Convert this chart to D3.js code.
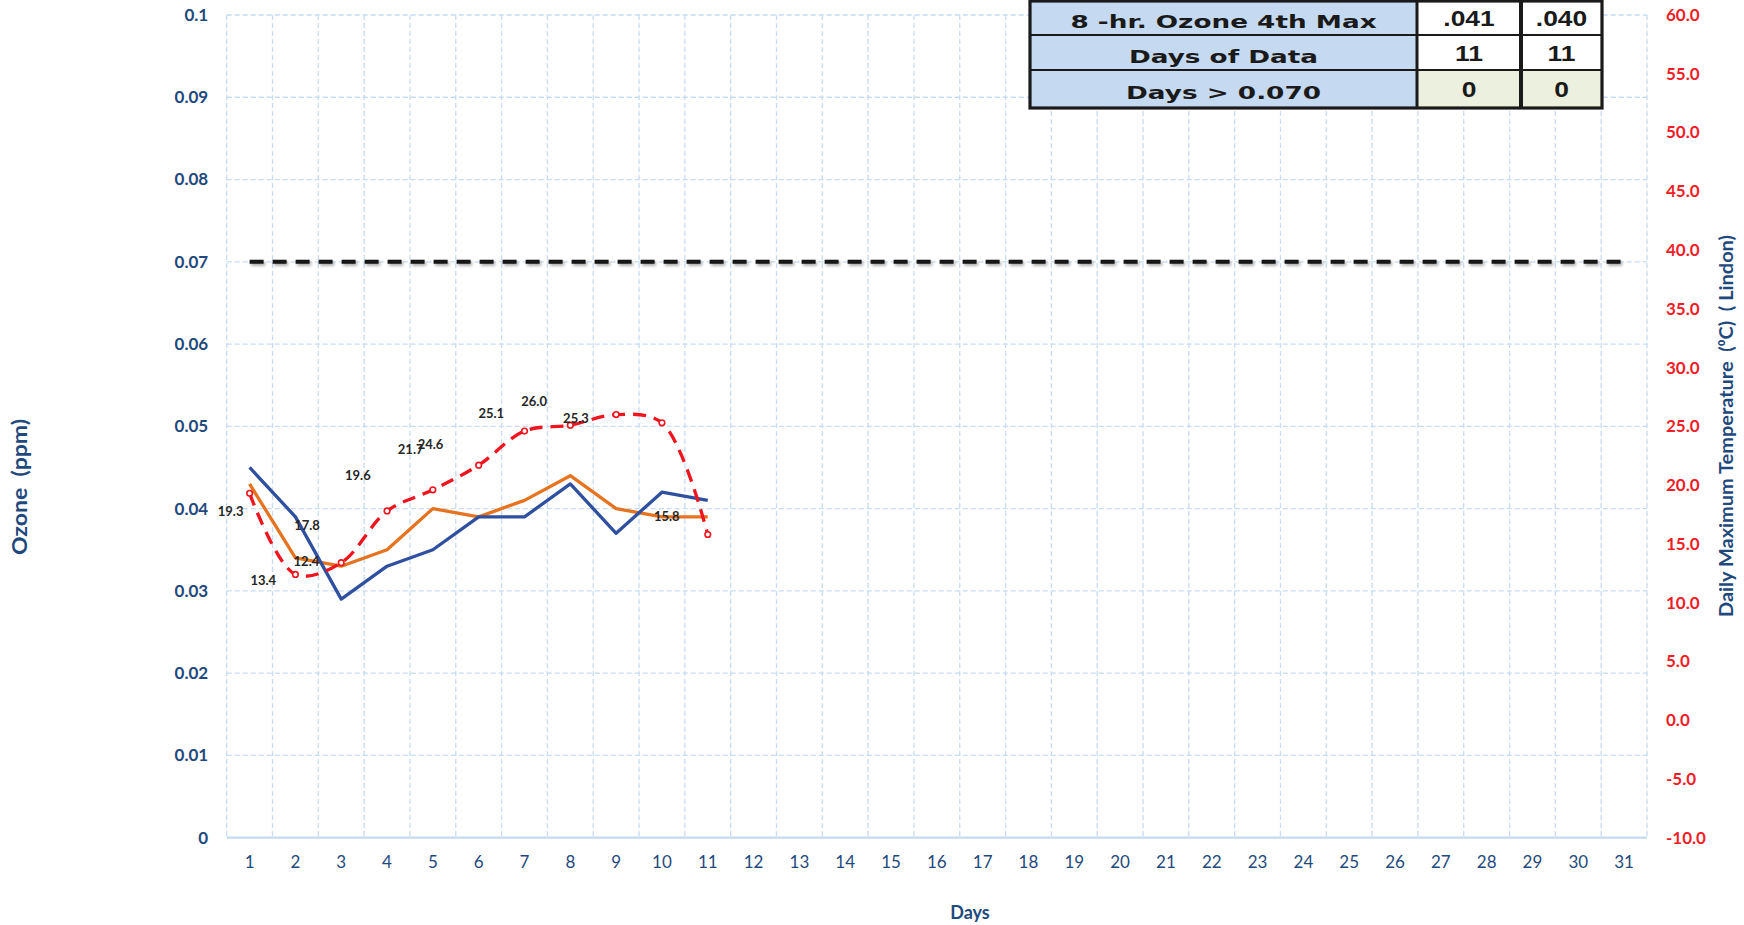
<!DOCTYPE html>
<html>
<head>
<meta charset="utf-8">
<script src="https://cdn.jsdelivr.net/npm/d3@7"></script>
<style>
  html, body { margin: 0; padding: 0; background: #fff; }
  svg { display: block; }
  .axis text { font-family: Lato, "Open Sans", sans-serif; }
</style>
</head>
<body>
<svg id="chart" width="1744" height="925"></svg>
<script>
// chart values
const days = [1, 2, 3, 4, 5, 6, 7, 8, 9, 10, 11, 12, 13, 14, 15, 16, 17, 18, 19, 20,
              21, 22, 23, 24, 25, 26, 27, 28, 29, 30, 31];
const ozoneBlue = [0.045, 0.039, 0.029, 0.033, 0.035, 0.039, 0.039, 0.043, 0.037, 0.042, 0.041];
const ozoneOrange = [0.043, 0.034, 0.033, 0.035, 0.040, 0.039, 0.041, 0.044, 0.040, 0.039, 0.039];
const tempMax = [19.3, 12.4, 13.4, 17.8, 19.6, 21.7, 24.6, 25.1, 26.0, 25.3, 15.8];
const standard = 0.070;
const ozoneTicks = [0, 0.01, 0.02, 0.03, 0.04, 0.05, 0.06, 0.07, 0.08, 0.09, 0.1];
const tempTicks = [-10, -5, 0, 5, 10, 15, 20, 25, 30, 35, 40, 45, 50, 55, 60];

// summary table
const tableLabels = ["8 -hr. Ozone 4th Max", "Days of Data", "Days > 0.070"];
const siteA = [".041", "11", "0"];
const siteB = [".040", "11", "0"];

// label nudges (px) for the temperature data labels, as placed in the original
const labelNudge = [[-19, 18], [11, -13], [-78, 18], [-80, 14], [-75, -14], [-68, -16],
                    [-94, 13], [-79, -12], [-82, -13], [-86, -4], [-41, -18]];

const svg = d3.select("#chart");
const x0 = 226.7, x1 = 1647, yTop = 15, yBot = 837.7;
const blueText = "#1f497d";
const gridColor = "#c8dbf1";

const x = d3.scaleBand().domain(days).range([x0, x1]).padding(0);
const xc = d => x(d) + x.bandwidth() / 2;
const y = d3.scaleLinear().domain([0, 0.1]).range([yBot, yTop]);
const yT = d3.scaleLinear().domain([-10, 60]).range([yBot, yTop]);

// soft shadow under the standard line (user space, the line has no height)
const defs = svg.append("defs");
const shadow = defs.append("filter").attr("id", "shadow")
    .attr("filterUnits", "userSpaceOnUse")
    .attr("x", 0).attr("y", 0).attr("width", 1744).attr("height", 925);
shadow.append("feDropShadow")
    .attr("dx", 1.5).attr("dy", 2).attr("stdDeviation", 1.4)
    .attr("flood-color", "#000").attr("flood-opacity", 0.35);

// grid
const grid = svg.append("g");
grid.selectAll(".hgrid")
    .data(ozoneTicks.filter(d => d > 0))
    .enter().append("line")
    .attr("x1", x0).attr("x2", x1)
    .attr("y1", d => y(d)).attr("y2", d => y(d))
    .style("stroke", gridColor).style("stroke-width", 1.3)
    .style("stroke-dasharray", "5,3");
grid.selectAll(".vgrid")
    .data(days.map(d => x(d)).concat([x1]))
    .enter().append("line")
    .attr("x1", d => d).attr("x2", d => d)
    .attr("y1", yTop).attr("y2", yBot)
    .style("stroke", gridColor).style("stroke-width", 1.3)
    .style("stroke-dasharray", "5,3");

// bottom axis line
svg.append("line")
    .attr("x1", x0).attr("x2", x1)
    .attr("y1", yBot).attr("y2", yBot)
    .style("stroke", "#c5d9f1").style("stroke-width", 2.2);

// 0.070 standard line
svg.append("line")
    .attr("x1", xc(days[0])).attr("x2", xc(days[days.length - 1]))
    .attr("y1", y(standard)).attr("y2", y(standard))
    .style("stroke", "#141414").style("stroke-width", 4)
    .style("stroke-dasharray", "14,9")
    .attr("filter", "url(#shadow)");

const ozoneLine = d3.line()
    .x((d, i) => xc(days[i]))
    .y(d => y(d));

svg.append("path")
    .datum(ozoneOrange)
    .attr("d", ozoneLine)
    .style("fill", "none").style("stroke", "#e5731f").style("stroke-width", 3.3)
    .style("stroke-linejoin", "round");

svg.append("path")
    .datum(ozoneBlue)
    .attr("d", ozoneLine)
    .style("fill", "none").style("stroke", "#2f4f9f").style("stroke-width", 3.3)
    .style("stroke-linejoin", "round");

// temperature (right axis), smoothed dashed line with open markers
const tempLine = d3.line()
    .x((d, i) => xc(days[i]))
    .y(d => yT(d))
    .curve(d3.curveCatmullRom.alpha(0.5));

svg.append("path")
    .datum(tempMax)
    .attr("d", tempLine)
    .style("fill", "none").style("stroke", "#f0141e").style("stroke-width", 3.3)
    .style("stroke-dasharray", "13,8");

svg.selectAll(".tmark")
    .data(tempMax)
    .enter().append("circle")
    .attr("cx", (d, i) => xc(days[i]))
    .attr("cy", d => yT(d))
    .attr("r", 2.8)
    .style("fill", "#fff").style("stroke", "#f0141e").style("stroke-width", 1.6);

svg.selectAll(".tlabel")
    .data(tempMax)
    .enter().append("text")
    .attr("x", (d, i) => xc(days[i]) + labelNudge[i][0])
    .attr("y", (d, i) => yT(d) + labelNudge[i][1])
    .attr("dy", "0.35em")
    .attr("text-anchor", "middle")
    .style("font-family", "Lato, sans-serif").style("font-weight", "bold")
    .style("font-size", "13px").style("fill", "#262626")
    .text(d => d.toFixed(1));

// axes
const leftAxis = svg.append("g")
    .attr("class", "axis")
    .attr("transform", `translate(${x0},0)`)
    .call(d3.axisLeft(y).tickValues(ozoneTicks).tickSize(0).tickPadding(18.5)
        .tickFormat(d => d === 0 ? "0" : String(+d.toFixed(2))));
leftAxis.select(".domain").remove();
leftAxis.selectAll("text")
    .style("font-size", "17px").style("font-weight", "bold").style("fill", blueText);

const rightAxis = svg.append("g")
    .attr("class", "axis")
    .attr("transform", `translate(${x1},0)`)
    .call(d3.axisRight(yT).tickValues(tempTicks).tickSize(0).tickPadding(19)
        .tickFormat(d => d.toFixed(1)));
rightAxis.select(".domain").remove();
rightAxis.selectAll("text")
    .style("font-size", "17px").style("font-weight", "bold").style("fill", "#f01e28");

const bottomAxis = svg.append("g")
    .attr("class", "axis")
    .attr("transform", `translate(0,${yBot})`)
    .call(d3.axisBottom(x).tickSize(0).tickPadding(18.5));
bottomAxis.select(".domain").remove();
bottomAxis.selectAll("text")
    .style("font-size", "17px").style("fill", blueText);

// axis titles
svg.append("text")
    .attr("transform", "translate(27,487) rotate(-90)")
    .attr("text-anchor", "middle")
    .attr("textLength", 136).attr("lengthAdjust", "spacingAndGlyphs")
    .style("font-family", "Lato, sans-serif").style("font-weight", "bold")
    .style("font-size", "21px").style("fill", blueText)
    .style("white-space", "pre")
    .text("Ozone  (ppm)");

svg.append("text")
    .attr("x", 970).attr("y", 919)
    .attr("text-anchor", "middle")
    .style("font-family", "Lato, sans-serif").style("font-weight", "bold")
    .style("font-size", "18px").style("fill", blueText)
    .text("Days");

svg.append("text")
    .attr("transform", "translate(1733,426) rotate(-90)")
    .attr("text-anchor", "middle")
    .attr("textLength", 382).attr("lengthAdjust", "spacingAndGlyphs")
    .style("font-family", "Lato, sans-serif").style("font-weight", "bold")
    .style("font-size", "18px").style("fill", blueText)
    .style("white-space", "pre")
    .text("Daily Maximum Temperature  (⁰C)  ( Lindon)");

// summary table, top right
const rowEdges = [1, 35, 70, 108];
const colEdges = [1030, 1417, 1521, 1602];
const table = svg.append("g");

tableLabels.forEach((label, r) => {
    const top = rowEdges[r], h = rowEdges[r + 1] - rowEdges[r];
    table.append("rect")
        .attr("x", colEdges[0]).attr("y", top)
        .attr("width", colEdges[1] - colEdges[0]).attr("height", h)
        .style("fill", "#c5d9f1");
    [siteA[r], siteB[r]].forEach((v, c) => {
        table.append("rect")
            .attr("x", colEdges[c + 1]).attr("y", top)
            .attr("width", colEdges[c + 2] - colEdges[c + 1]).attr("height", h)
            .style("fill", r === 2 ? "#ebf1de" : "#fff");
        const cx = (colEdges[c + 1] + colEdges[c + 2]) / 2;
        table.append("text")
            .attr("transform", `translate(${cx},${top + h / 2 + 8}) scale(1.2,1)`)
            .attr("text-anchor", "middle")
            .style("font-family", "'Liberation Sans', Arial, sans-serif").style("font-weight", "bold")
            .style("font-size", "22px").style("fill", "#1a1a1a")
            .text(v);
    });
    const lx = (colEdges[0] + colEdges[1]) / 2;
    table.append("text")
        .attr("transform", `translate(${lx},${top + h / 2 + 10}) scale(1.46,1)`)
        .attr("text-anchor", "middle")
        .style("font-family", "'DejaVu Sans', sans-serif").style("font-weight", "bold")
        .style("font-size", "18px").style("fill", "#1a1a1a")
        .text(label);
});

// row dividers
rowEdges.slice(1, 3).forEach(ry => {
    table.append("line")
        .attr("x1", colEdges[0]).attr("x2", colEdges[3])
        .attr("y1", ry).attr("y2", ry)
        .style("stroke", "#1a1a1a").style("stroke-width", 2);
});
// column dividers
table.append("line")
    .attr("x1", colEdges[1]).attr("x2", colEdges[1])
    .attr("y1", rowEdges[0]).attr("y2", rowEdges[3])
    .style("stroke", "#1a1a1a").style("stroke-width", 3);
table.append("line")
    .attr("x1", colEdges[2]).attr("x2", colEdges[2])
    .attr("y1", rowEdges[0]).attr("y2", rowEdges[3])
    .style("stroke", "#1a1a1a").style("stroke-width", 4);
// outer border
table.append("rect")
    .attr("x", colEdges[0]).attr("y", rowEdges[0])
    .attr("width", colEdges[3] - colEdges[0]).attr("height", rowEdges[3] - rowEdges[0])
    .style("fill", "none").style("stroke", "#1a1a1a").style("stroke-width", 3.2);
</script>
</body>
</html>
